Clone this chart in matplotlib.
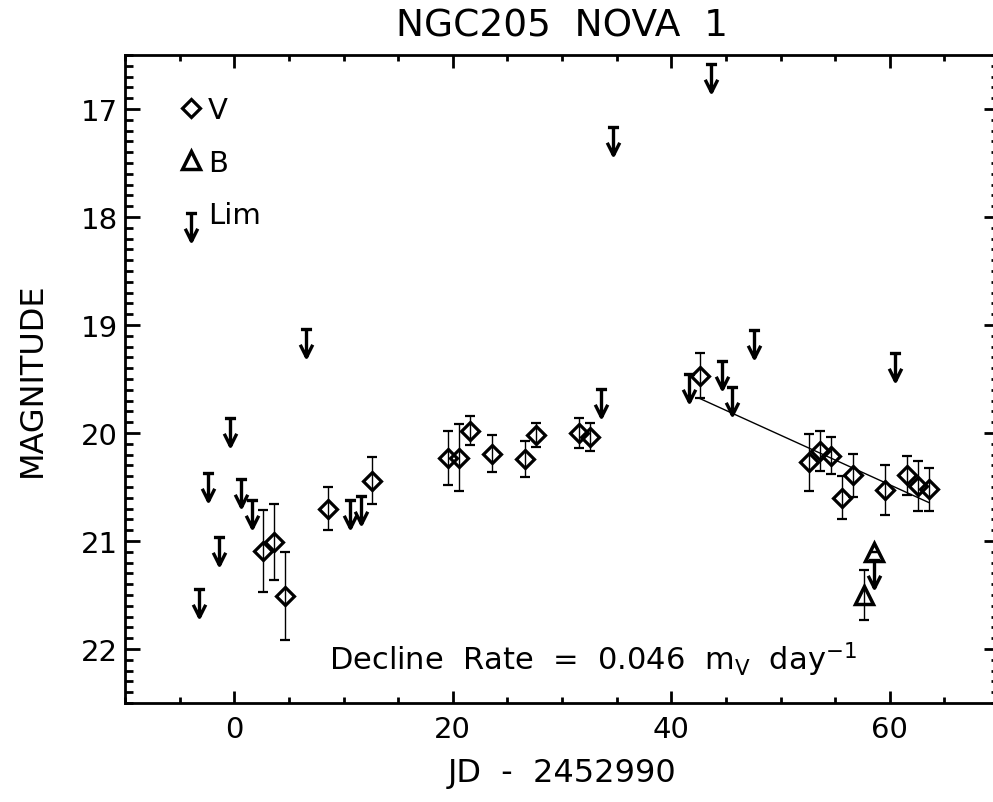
import matplotlib
matplotlib.use("Agg")
import matplotlib.pyplot as plt
import numpy as np
from matplotlib.path import Path
from matplotlib.lines import Line2D
from matplotlib.ticker import MultipleLocator

plt.rcParams['font.family'] = ['DejaVu Sans']
plt.rcParams['mathtext.fontset'] = 'dejavusans'

# V detections (JD - 2452990, mag, error)
v_jd = [2.6, 3.6, 4.6, 8.6, 12.6, 19.6, 20.6, 21.6, 23.6, 26.6, 27.6, 31.6, 32.6,
        42.6, 52.6, 53.6, 54.6, 55.6, 56.6, 59.6, 61.6, 62.6, 63.6]
v_mag = [21.09, 21.01, 21.51, 20.70, 20.44, 20.23, 20.23, 19.98, 20.19, 20.24, 20.02, 20.00, 20.04,
         19.47, 20.27, 20.17, 20.21, 20.60, 20.39, 20.53, 20.39, 20.49, 20.52]
v_err = [0.38, 0.35, 0.41, 0.20, 0.22, 0.25, 0.31, 0.135, 0.17, 0.17, 0.11, 0.135, 0.13,
         0.21, 0.265, 0.185, 0.17, 0.20, 0.20, 0.23, 0.18, 0.23, 0.20]

# B detections
b_jd = [57.6, 58.6]
b_mag = [21.50, 21.10]
b_err = [0.23, 0.0]

# limiting magnitudes
lim_jd = [-3.2, -2.4, -1.4, -0.4, 0.6, 1.6, 6.6, 10.6, 11.6, 33.6, 34.7, 41.6, 43.6,
          44.6, 45.6, 47.6, 58.6, 60.5]
lim_mag = [21.44, 20.37, 20.96, 19.86, 20.43, 20.62, 19.04, 20.62, 20.58, 19.59, 17.17, 19.45, 16.58,
           19.33, 19.57, 19.05, 21.18, 19.26]

# linear decline fit
fit_jd = [42.6, 63.6]
fit_mag = [19.68, 20.645]

# arrow marker: bar at the limit, arrow pointing to fainter mags
arrow = Path([(-0.4, 0), (0.4, 0), (0, 0), (0, -2), (-0.45, -1.1), (0, -2), (0.45, -1.1)],
             [Path.MOVETO, Path.LINETO, Path.MOVETO, Path.LINETO, Path.MOVETO, Path.LINETO, Path.LINETO])

fig = plt.figure(figsize=(9.93, 8.03), dpi=100)
ax = fig.add_axes([125/993, 99/803, 874/993, 648/803])

ax.errorbar(v_jd, v_mag, yerr=v_err, fmt='none', ecolor='k', elinewidth=1.0, capsize=3.5, capthick=1.6)
ax.plot(v_jd, v_mag, ls='none', marker='D', ms=9.5, mfc='none', mec='k', mew=2.3)
ax.errorbar(b_jd, b_mag, yerr=b_err, fmt='none', ecolor='k', elinewidth=1.0, capsize=3.5, capthick=1.6)
ax.plot(b_jd, b_mag, ls='none', marker='^', ms=13, mfc='none', mec='k', mew=2.5)
ax.plot(lim_jd, lim_mag, ls='none', marker=arrow, ms=40, mfc='none', mec='k', mew=2.4)
ax.plot(fit_jd, fit_mag, color='k', lw=1.0)

ax.set_xlim(-10, 70)
ax.set_ylim(22.5, 16.5)
ax.xaxis.set_major_locator(MultipleLocator(20))
ax.xaxis.set_minor_locator(MultipleLocator(5))
ax.yaxis.set_major_locator(MultipleLocator(1))
ax.yaxis.set_minor_locator(MultipleLocator(0.1))
ax.tick_params(which='both', direction='in', top=True, right=True, width=2, labelsize=21)
ax.tick_params(axis='x', which='major', length=9, pad=9)
ax.tick_params(axis='x', which='minor', length=4.5)
ax.tick_params(axis='y', which='major', length=11, pad=5)
ax.tick_params(axis='y', which='minor', length=5.5)
for s in ax.spines.values():
    s.set_linewidth(2)

ax.set_title('NGC205  NOVA  1', fontsize=27, pad=14)
ax.set_xlabel('JD  -  2452990', fontsize=23, labelpad=10)
ax.set_ylabel('MAGNITUDE', fontsize=23, labelpad=24)

ax.text(0.535, 0.068, 'Decline  Rate  =  0.046  m$_{\\rm V}$  day$^{-1}$', transform=ax.transAxes,
        ha='center', va='center', fontsize=22)

handles = [Line2D([], [], ls='none', marker='D', ms=9.5, mfc='none', mec='k', mew=2.3),
           Line2D([], [], ls='none', marker='^', ms=13, mfc='none', mec='k', mew=2.5),
           Line2D([], [], ls='none', marker=arrow, ms=40, mfc='none', mec='k', mew=2.4)]
ax.legend(handles, ['V', 'B', 'Lim'], loc='upper left', bbox_to_anchor=(0.045, 0.955), frameon=False,
          fontsize=21, handlelength=1.0, handletextpad=0.1, labelspacing=0.85, borderaxespad=0)

fig.savefig('out.png', dpi=100)
